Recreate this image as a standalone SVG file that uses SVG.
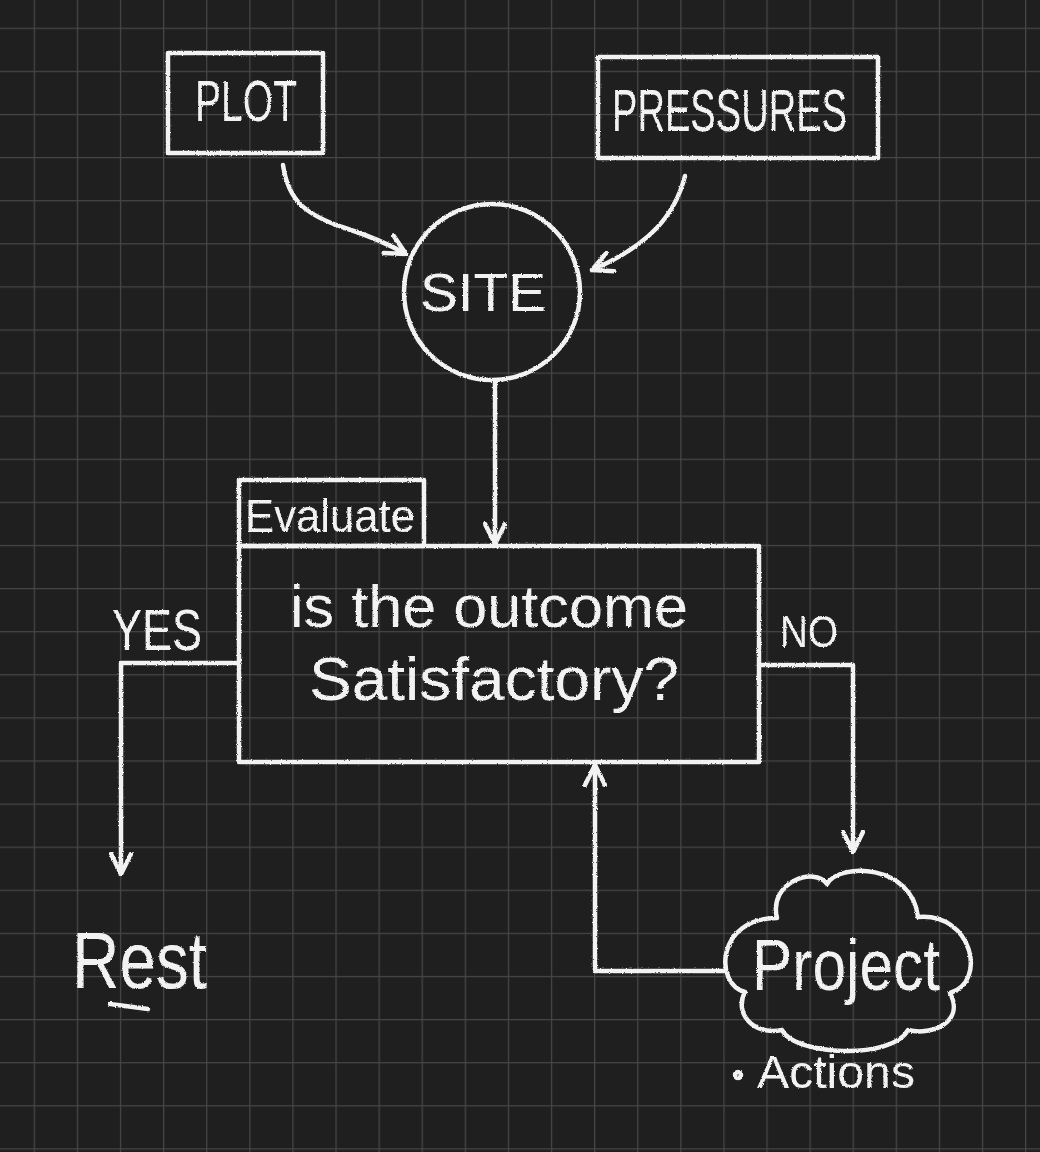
<svg xmlns="http://www.w3.org/2000/svg" width="1040" height="1152" viewBox="0 0 1040 1152">
  <style>
    .ln { fill: none; stroke: #f2f2f2; stroke-width: 4.5; stroke-linecap: round; stroke-linejoin: round; }
    .tx { fill: #f2f2f2; font-family: "Liberation Sans", "DejaVu Sans", sans-serif; }
  </style>
  <defs>
    <pattern id="grid" patternUnits="userSpaceOnUse" x="33.7" y="27.7" width="43.1" height="43.1">
      <path d="M0 0.6 H43.1 M0.6 0 V43.1" fill="none" stroke="#464646" stroke-width="1.3"/>
    </pattern>
    <filter id="chalk" x="-5%" y="-5%" width="110%" height="110%">
      <feTurbulence type="fractalNoise" baseFrequency="0.8" numOctaves="2" seed="3" result="n"/>
      <feDisplacementMap in="SourceGraphic" in2="n" scale="2.5" xChannelSelector="R" yChannelSelector="G"/>
    </filter>
    <marker id="ah" viewBox="0 0 24 24" refX="22" refY="12" markerWidth="24" markerHeight="24" markerUnits="userSpaceOnUse" orient="auto">
      <path d="M2 2 L22 12 L2 22" fill="none" stroke="#f2f2f2" stroke-width="4.5" stroke-linecap="round" stroke-linejoin="round"/>
    </marker>
  </defs>
  <rect width="1040" height="1152" fill="#1f1f1f"/>
  <rect width="1040" height="1152" fill="url(#grid)"/>

  <g filter="url(#chalk)">
    <g id="plot">
      <rect class="ln" x="168" y="53" width="155" height="100"/>
      <text class="tx" x="195" y="121" font-size="58" textLength="102" lengthAdjust="spacingAndGlyphs">PLOT</text>
    </g>
    <g id="pressures">
      <rect class="ln" x="598" y="57" width="280" height="101"/>
      <text class="tx" x="612" y="131" font-size="60" textLength="235" lengthAdjust="spacingAndGlyphs">PRESSURES</text>
    </g>
    <g id="site">
      <circle class="ln" cx="492" cy="292" r="88"/>
      <text class="tx" x="420" y="311" font-size="54" textLength="126" lengthAdjust="spacingAndGlyphs">SITE</text>
    </g>
    <g id="evaluate">
      <rect class="ln" x="239" y="480" width="185" height="66"/>
      <text class="tx" x="245" y="532" font-size="46" textLength="170" lengthAdjust="spacingAndGlyphs">Evaluate</text>
      <rect class="ln" x="239" y="546" width="520" height="216"/>
      <text class="tx" x="290" y="627" font-size="60" textLength="398" lengthAdjust="spacingAndGlyphs">is the outcome</text>
      <text class="tx" x="309" y="700" font-size="62" textLength="370" lengthAdjust="spacingAndGlyphs">Satisfactory?</text>
    </g>
    <g id="rest">
      <text class="tx" x="72" y="988" font-size="80" textLength="135" lengthAdjust="spacingAndGlyphs">Rest</text>
      <path class="ln" d="M110 1004 L148 1009"/>
    </g>
    <g id="project">
      <path class="ln" d="M777 918 C768 882 815 866 827 884 C840 862 912 864 918 917 C972 912 988 982 950 993 C965 1022 932 1036 908 1030 C892 1060 795 1056 782 1030 C752 1036 734 1012 745 992 C714 984 716 918 777 918 Z"/>
      <text class="tx" x="752" y="990" font-size="72" textLength="188" lengthAdjust="spacingAndGlyphs">Project</text>
      <circle class="ln" cx="738" cy="1075" r="3" stroke-width="2.5"/>
      <text class="tx" x="757" y="1088" font-size="46" textLength="158" lengthAdjust="spacingAndGlyphs">Actions</text>
    </g>
    <g id="connectors">
      <path class="ln" d="M283 165 C288 200 305 215 345 228 C370 236 390 245 406 254" marker-end="url(#ah)"/>
      <path class="ln" d="M685 176 C675 215 650 245 592 270" marker-end="url(#ah)"/>
      <path class="ln" d="M495 383 L495 544" marker-end="url(#ah)"/>
      <path class="ln" d="M239 663 L121 663 L121 874" marker-end="url(#ah)"/>
      <text class="tx" x="112" y="650" font-size="58" textLength="90" lengthAdjust="spacingAndGlyphs">YES</text>
      <path class="ln" d="M759 665 L853 665 L853 852" marker-end="url(#ah)"/>
      <text class="tx" x="780" y="647" font-size="44" textLength="58" lengthAdjust="spacingAndGlyphs">NO</text>
      <path class="ln" d="M724 971 L595 971 L595 765" marker-end="url(#ah)"/>
    </g>
  </g>
</svg>
